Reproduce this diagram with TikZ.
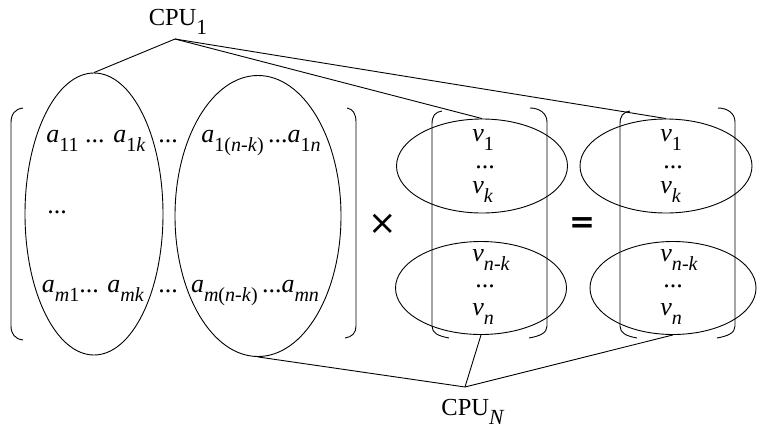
\documentclass[tikz,border=0pt]{standalone}
\usepackage{fontspec}
\setmainfont{Liberation Serif}
\newfontfamily\opfont{DejaVu Sans}
\usepackage{graphicx}
\usetikzlibrary{shapes.geometric, positioning}
\newcommand{\lo}[2][0.77]{\raisebox{-0.36em}{\scalebox{#1}{#2}}}

\begin{document}
\begin{tikzpicture}[
        x=1pt, y=-1pt,
        line width=0.9pt,
        every node/.style={inner sep=0pt, font=\fontsize{26}{28}\selectfont},
        group/.style={draw, ellipse, inner sep=0pt},
        entry/.style={anchor=base west},
        cpu/.style={font=\fontsize{24.5}{26}\selectfont},
        op/.style={font=\opfont\fontsize{34}{34}\selectfont}
    ]
        \useasboundingbox (0,0) rectangle (757,431);

        % column blocks of the matrix
        \node[group, minimum width=138pt, minimum height=282pt] (colL) at (94,214) {};
        \node[group, minimum width=166pt, minimum height=281pt] (colR) at (258,216) {};

        % blocks of the two vectors
        \node[group, minimum width=171pt, minimum height=94pt] (topA) at (482,166) {};
        \node[group, minimum width=171pt, minimum height=93pt] (botA) at (481,288) {};
        \node[group, minimum width=172pt, minimum height=94pt] (topB) at (666,166) {};
        \node[group, minimum width=166pt, minimum height=93pt] (botB) at (673,288) {};

        % brackets
        \draw (23,108) .. controls (15,109) and (11,114) .. (11,123) -- (11,326)
            .. controls (11,334) and (15,339) .. (23,340);
        \draw (347,108) .. controls (353,109) and (356,114) .. (356,122) -- (356,326)
            .. controls (356,333) and (352,337) .. (345,338);
        \foreach \l/\r in {432/547, 620/735} {
            \draw (\l+10,111) .. controls (\l+3,112) and (\l,116) .. (\l,124) -- (\l,326)
                .. controls (\l,333) and (\l+6,336) .. (\l+17,338);
            \draw (\r-17,108) .. controls (\r-8,108) and (\r,113) .. (\r,122) -- (\r,326)
                .. controls (\r,333) and (\r-7,336) .. (\r-18,338);
        }

        % matrix entries
        \node[anchor=base] (r1L) at (96,142) {\textit{a}\lo{11} ... \textit{a}\lo{1\textit{k}}};
        \node[anchor=base] (r1M) at (168,142) {...};
        \node[anchor=base] (r1R) at (261,142) {\textit{a}\lo{1(\textit{n}-\textit{k})}\,...\textit{a}\lo{1\textit{n}}};
        \node[entry] (r2L) at (47,213) {...};
        \node[anchor=base] (r3L) at (93,292) {\textit{a}\lo{\textit{m}1}... \textit{a}\lo{\textit{mk}}};
        \node[anchor=base] (r3M) at (168,292) {...};
        \node[anchor=base] (r3R) at (255,292) {\textit{a}\lo{\textit{m}(\textit{n}-\textit{k})}\,...\textit{a}\lo{\textit{mn}}};

        % vector entries
        \foreach \x/\v in {472/A, 660/B} {
            \node[entry] (v\v1) at (\x,141) {\textit{v}\lo{1}};
            \node[entry] (v\v2) at (\x+3,168) {...};
            \node[entry] (v\v3) at (\x,193) {\textit{v}\lo{\textit{k}}};
            \node[entry] (v\v4) at (\x,261) {\textit{v}\lo{\textit{n}-\textit{k}}};
            \node[entry] (v\v5) at (\x+3,287) {...};
            \node[entry] (v\v6) at (\x,315) {\textit{v}\lo{\textit{n}}};
        }

        \node[op] (times) at (383,224) {×};
        \node[op, font=\opfont\bfseries\fontsize{31}{31}\selectfont] (eq) at (582,225) {=};

        % processors
        \coordinate (hub1) at (175,39);
        \coordinate (hubN) at (465,387);
        \node[cpu, above=4pt of hub1, xshift=3pt] (cpu1) {CPU\lo[0.88]{1}};
        \node[cpu, below=12pt of hubN, xshift=8pt] (cpuN) {CPU\lo[0.88]{\textit{N}}};

        \draw (hub1) -- (colL.north);
        \draw (hub1) -- (topA.north);
        \draw (hub1) -- (topB.north);
        \draw (hubN) -- (colR.south);
        \draw (hubN) -- (botA.south);
        \draw (hubN) -- (botB.south);
    \end{tikzpicture}
\end{document}
